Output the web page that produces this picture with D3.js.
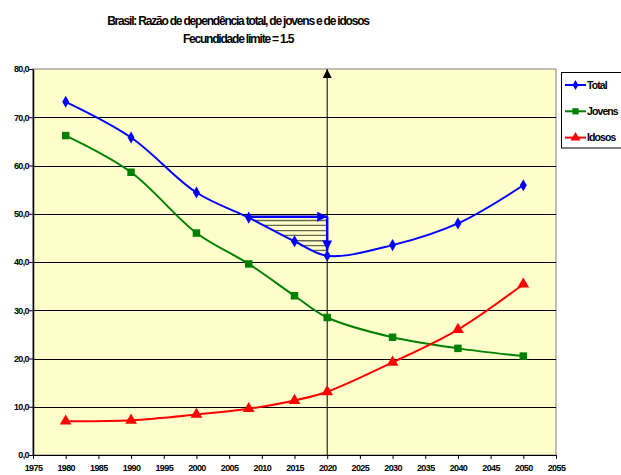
<!DOCTYPE html>
<html><head><meta charset="utf-8">
<script src="https://cdn.jsdelivr.net/npm/d3@7"></script>
<style>
body{margin:0;background:#fff;}
svg{display:block;font-family:"Liberation Sans",Arial,sans-serif;}
</style></head>
<body>
<svg id="c" width="621" height="475"></svg>
<script>
const years = [1980, 1990, 2000, 2008, 2015, 2020, 2030, 2040, 2050];
const total = [73.2, 65.8, 54.4, 49.2, 44.3, 41.3, 43.5, 48.0, 55.9];
const jovens = [66.2, 58.6, 46.0, 39.6, 33.0, 28.5, 24.4, 22.1, 20.5];
const idosos = [7.0, 7.2, 8.4, 9.6, 11.3, 13.1, 19.2, 26.0, 35.4];
const xTicks = d3.range(1975, 2056, 5);
const yTicks = [0, 10, 20, 30, 40, 50, 60, 70, 80];
const hatchLevels = [48.6, 47.6, 46.5, 45.5, 44.4, 43.4, 42.4];
const arrowLevel = 49.4, arrowEnd = 42.4, arrowStartYear = 2008, markYear = 2020;
const seriesNames = ["Total", "Jovens", "Idosos"];
const colors = ["#0000FF", "#008000", "#FF0000"];

const svg = d3.select("#c");
const x = d3.scaleLinear().domain([1975, 2055]).range([33, 556]);
const y = d3.scaleLinear().domain([0, 80]).range([455, 69]);

const defs = svg.append("defs");
function marker(id, color, w, h) {
  defs.append("marker").attr("id", id).attr("viewBox", "0 0 10 10").attr("refX", 10).attr("refY", 5)
    .attr("markerWidth", w).attr("markerHeight", h).attr("markerUnits", "userSpaceOnUse").attr("orient", "auto")
    .append("path").attr("d", "M0,0L10,5L0,10Z").attr("fill", color);
}
marker("ab", "#000", 9, 9);
marker("au", "#0000FF", 10, 10);

// plot background
svg.append("rect").attr("x", 33).attr("y", 69).attr("width", 523).attr("height", 386)
  .attr("fill", "#FFFFCC").attr("stroke", "#808080").attr("stroke-width", 1);

// gridlines
svg.append("g").selectAll("line").data(yTicks.filter(d => d > 0 && d < 80)).join("line")
  .attr("x1", 33).attr("x2", 556).attr("y1", d => Math.round(y(d)) + 0.5).attr("y2", d => Math.round(y(d)) + 0.5)
  .attr("stroke", "#000").attr("stroke-width", 1);

// axes
const xAxis = d3.axisBottom(x).tickValues(xTicks).tickFormat(d3.format("d")).tickSize(4).tickSizeOuter(0);
const gx = svg.append("g").attr("transform", "translate(0,455)").call(xAxis);
gx.select(".domain").attr("stroke", "#000");
gx.selectAll("text").attr("font-size", 9).attr("font-weight", "bold").attr("letter-spacing", -0.6).attr("dy", "1.05em").attr("fill", "#000");

const yAxis = d3.axisLeft(y).tickValues(yTicks).tickFormat(d => d3.format(".1f")(d).replace(".", ",")).tickSize(4).tickSizeOuter(0);
const gy = svg.append("g").attr("transform", "translate(33,0)").call(yAxis);
gy.select(".domain").attr("stroke", "#000").attr("stroke-width", 1.5);
gy.selectAll("text").attr("font-size", 9).attr("font-weight", "bold").attr("letter-spacing", -0.6).attr("x", -4).attr("fill", "#000");

// series
const line = d3.line().x(d => x(d[0])).y(d => y(d[1])).curve(d3.curveCatmullRom.alpha(0.5));
const data = [total, jovens, idosos].map(vals => years.map((yr, i) => [yr, vals[i]]));

// hatch: intersection of horizontal levels with the smoothed total curve
const tmp = svg.append("path").attr("d", line(data[0])).attr("fill", "none").attr("stroke", "none");
const node = tmp.node(), L = node.getTotalLength();
const pts = [];
for (let s = 0; s <= L; s += 0.5) pts.push(node.getPointAtLength(s));
const xMark = x(markYear);
const hg = svg.append("g");
hatchLevels.forEach(lv => {
  const py = y(lv);
  let best = null;
  for (let i = 1; i < pts.length; i++) {
    const a = pts[i - 1], b = pts[i];
    if (a.x < x(arrowStartYear) - 5 || b.x > xMark) continue;
    if ((a.y - py) * (b.y - py) <= 0 && a.y !== b.y) {
      best = a.x + (py - a.y) / (b.y - a.y) * (b.x - a.x);
      break;
    }
  }
  if (best !== null) hg.append("line").attr("x1", best).attr("x2", xMark).attr("y1", py).attr("y2", py)
    .attr("stroke", "#666650").attr("stroke-width", 1.3);
});
tmp.remove();

// black vertical line at 2020 with arrow
svg.append("line").attr("x1", xMark).attr("x2", xMark).attr("y1", 455).attr("y2", 69)
  .attr("stroke", "#000").attr("stroke-width", 1).attr("marker-end", "url(#ab)");

data.forEach((d, i) => {
  svg.append("path").attr("d", line(d)).attr("fill", "none").attr("stroke", colors[i]).attr("stroke-width", 2);
});

// blue arrows
svg.append("line").attr("x1", x(arrowStartYear) - 3).attr("x2", xMark).attr("y1", y(arrowLevel)).attr("y2", y(arrowLevel))
  .attr("stroke", "#0000FF").attr("stroke-width", 2.5).attr("marker-end", "url(#au)");
svg.append("line").attr("x1", xMark).attr("x2", xMark).attr("y1", y(arrowLevel)).attr("y2", y(arrowEnd))
  .attr("stroke", "#0000FF").attr("stroke-width", 2.5).attr("marker-end", "url(#au)");

// markers
const sym = [d3.symbolDiamond, d3.symbolSquare, d3.symbolTriangle];
const sz = [42, 56, 60];
function drawSym(g, i, cx, cy, scale) {
  g.append("path").attr("d", d3.symbol().type(sym[i]).size(sz[i] * (scale || 1))())
    .attr("transform", `translate(${cx},${cy})`).attr("fill", colors[i]);
}
data.forEach((d, i) => {
  const g = svg.append("g");
  d.forEach(p => drawSym(g, i, x(p[0]), y(p[1])));
});

// legend
const lg = svg.append("g");
lg.append("rect").attr("x", 561.5).attr("y", 72.5).attr("width", 80).attr("height", 75.5)
  .attr("fill", "#fff").attr("stroke", "#000").attr("stroke-width", 1);
seriesNames.forEach((n, i) => {
  const ly = 85 + i * 26.3;
  lg.append("line").attr("x1", 565).attr("x2", 586).attr("y1", ly).attr("y2", ly).attr("stroke", colors[i]).attr("stroke-width", 2);
  drawSym(lg, i, 575.5, ly, 0.7);
  lg.append("text").attr("x", 587).attr("y", ly).attr("dy", "0.35em").attr("font-size", 10.5).attr("font-weight", "bold")
    .attr("letter-spacing", -0.9).text(n);
});

// title
const t = svg.append("text").attr("text-anchor", "middle").attr("font-weight", "bold").attr("font-size", 12)
  .attr("letter-spacing", -1.2);
t.append("tspan").attr("x", 238).attr("y", 25).text("Brasil: Razão de dependência total, de jovens e de idosos");
t.append("tspan").attr("x", 238).attr("y", 43).text("Fecundidade limite = 1.5");
</script>
</body></html>
